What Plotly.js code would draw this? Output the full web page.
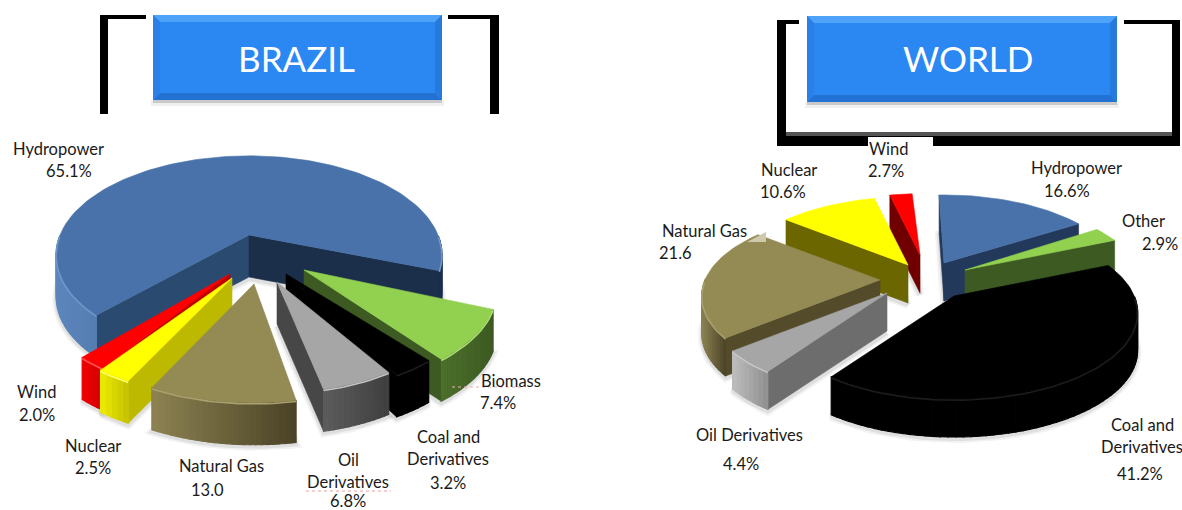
<!DOCTYPE html>
<html>
<head>
<meta charset="utf-8">
<script src="https://cdn.plot.ly/plotly-3.0.1.min.js"></script>
<style>html,body{margin:0;padding:0;background:#fff;overflow:hidden}#chart{width:1182px;height:510px}</style>
</head>
<body>
<div id="chart"></div>
<script>
// Electricity generation mix, percent shares
const brazilSources = ['Hydropower','Biomass','Coal and Derivatives','Oil Derivatives','Natural Gas','Nuclear','Wind'];
const brazilValues  = [65.1, 7.4, 3.2, 6.8, 13.0, 2.5, 2.0];
const worldSources  = ['Hydropower','Other','Coal and Derivatives','Oil Derivatives','Natural Gas','Nuclear','Wind'];
const worldValues   = [16.6, 2.9, 41.2, 4.4, 21.6, 10.6, 2.7];

// Colours per source: top face, near side, rim lit end, rim dark end, bevel
const palette = {
  'Hydropower':          {top:'#4872a9', sideA:'#2b4a70', sideB:'#1b2e4a', rimL:'#5c86bd', rimD:'#1b2e4a', glint:'#6f97cb'},
  'Biomass':             {top:'#92d050', sideA:'#3c5a22', sideB:'#3c5a22', rimL:'#4c6f2b', rimD:'#3c5a22', glint:'#a9dc72'},
  'Other':               {top:'#92d050', sideA:'#3c5a22', sideB:'#3c5a22', rimL:'#4c6f2b', rimD:'#3c5a22', glint:'#a9dc72'},
  'Coal and Derivatives':{top:'#000000', sideA:'#000000', sideB:'#000000', rimL:'#000000', rimD:'#000000', glint:'#1c1c1c'},
  'Oil Derivatives':     {top:'#a6a6a6', sideA:'#474747', sideB:'#474747', rimL:'#5c5c5c', rimD:'#3f3f3f', glint:'#c4c4c4'},
  'Natural Gas':         {top:'#948a54', sideA:'#544b2a', sideB:'#544b2a', rimL:'#8c8252', rimD:'#4a4226', glint:'#aaa16e'},
  'Nuclear':             {top:'#ffff00', sideA:'#bdb900', sideB:'#bdb900', rimL:'#ecec00', rimD:'#c4c000', glint:'#ffff66'},
  'Wind':                {top:'#ff0000', sideA:'#c00000', sideB:'#c00000', rimL:'#f00000', rimD:'#d00000', glint:'#ff5050'}
};

// Per-pie view: centre, radii, perspective strength, wall height, rotation, exploded offsets
const brazilView = {cx:249, cy:235, rx:189, ry:95, k:0.2, depth:42, startDeg:144.3, warpDeg:8,
  pull:{'Hydropower':[0,0],'Biomass':[55,35],'Coal and Derivatives':[37,39],'Oil Derivatives':[28,47],'Natural Gas':[5,49],'Nuclear':[-17,43],'Wind':[-19,39]},
  rot:{'Hydropower':-3,'Biomass':-1,'Coal and Derivatives':-3,'Oil Derivatives':-6,'Natural Gas':-4,'Nuclear':-3.5,'Wind':-5},
  scale:{'Oil Derivatives':0.93},
  side:{}};
const worldView = {cx:944, cy:263, rx:175, ry:81, k:0.19, depth:38, startDeg:266.6, warpDeg:0,
  pull:{'Hydropower':[0,0],'Other':[21,7],'Coal and Derivatives':[10,33],'Oil Derivatives':[-57,30],'Natural Gas':[-64,17],'Nuclear':[-36,2],'Wind':[-24,-8]},
  rot:{'Hydropower':1.5},
  scale:{'Wind':0.9,'Coal and Derivatives':1.03},
  side:{'Nuclear':'#6b6600','Wind':'#700000','Oil Derivatives':'#6d6d6d','Hydropower':'#23395b'},
  rim:{'Oil Derivatives':['#bdbdbd','#8f8f8f']}};

const rad = d => d * Math.PI / 180;
function hex(c){return [1,3,5].map(i=>parseInt(c.substr(i,2),16));}
function mix(a,b,t){const A=hex(a),B=hex(b);return 'rgb('+A.map((v,i)=>Math.round(v+(B[i]-v)*t)).join(',')+')';}

function facePts(pts){return {x:pts.map(p=>p[0]).concat(pts[0][0]), y:pts.map(p=>p[1]).concat(pts[0][1])};}
function fillTrace(pts,color,w){
  const f=facePts(pts);
  return {type:'scatter',mode:'lines',x:f.x,y:f.y,fill:'toself',fillcolor:color,
          line:{color:color,width:w===undefined?0.6:w},hoverinfo:'skip',showlegend:false};
}

function pieTraces(sources, values, view){
  const total = values.reduce((a,b)=>a+b,0);
  const warp = t => t + view.warpDeg*Math.sin(rad(2*t));
  let cursor = view.startDeg;
  const slices = sources.map((name,i)=>{
    const span = values[i]/total*360;
    const a0 = cursor, a1 = cursor+span;
    cursor = a1;
    const [dx,dy] = view.pull[name];
    return {name, a0, a1, ax:view.cx+dx, ay:view.cy+dy, rot:view.rot[name]||0, rs:view.scale[name]||1,
            mid:Math.sin(rad((warp(a0)+warp(a1))/2))};
  }).sort((p,q)=>p.mid-q.mid);

  const shadow=[], body=[];
  slices.forEach(sl=>{
    const pal = palette[sl.name];
    const steps = Math.max(4, Math.ceil((sl.a1-sl.a0)/2));
    const arc = [];
    for(let j=0;j<=steps;j++){
      const phi = warp(sl.a0+(sl.a1-sl.a0)*j/steps)+sl.rot;
      const s = sl.rs/(1 - view.k*Math.sin(rad(phi)));
      arc.push({phi, x:sl.ax+view.rx*Math.cos(rad(phi))*s, y:sl.ay+view.ry*Math.sin(rad(phi))*s});
    }
    // soft contact shadow under the wedge
    const low = [[sl.ax,sl.ay+view.depth+2]].concat(arc.map(q=>[q.x,q.y+view.depth+2]));
    const lf = facePts(low);
    [[8,0.05],[4,0.08]].forEach(([w,o])=>shadow.push({type:'scatter',mode:'lines',x:lf.x,y:lf.y,
      line:{color:'rgba(0,0,0,'+o+')',width:w},hoverinfo:'skip',showlegend:false}));

    const d = view.depth;
    const sideCol = (view.side && view.side[sl.name]);
    // radial walls facing the viewer
    const p0 = arc[0], p1 = arc[arc.length-1];
    if(Math.cos(rad(p0.phi))<0)
      body.push(fillTrace([[sl.ax,sl.ay],[p0.x,p0.y],[p0.x,p0.y+d],[sl.ax,sl.ay+d]], sideCol||pal.sideA));
    if(Math.cos(rad(p1.phi))>0)
      body.push(fillTrace([[sl.ax,sl.ay],[p1.x,p1.y],[p1.x,p1.y+d],[sl.ax,sl.ay+d]], sideCol?sideCol:pal.sideB));
    // outer wall, shaded left to right in narrow strips
    const front = arc.filter(q=>Math.sin(rad(q.phi))>-0.02);
    if(front.length>1){
      const xs = front.map(q=>q.x), lo=Math.min(...xs), hi=Math.max(...xs);
      const rim = (view.rim && view.rim[sl.name]) || [pal.rimL,pal.rimD];
      for(let j=0;j<arc.length-1;j++){
        const a=arc[j], b=arc[j+1];
        if(Math.sin(rad(a.phi))<-0.02||Math.sin(rad(b.phi))<-0.02) continue;
        const t=((a.x+b.x)/2-lo)/Math.max(1,hi-lo);
        body.push(fillTrace([[a.x,a.y],[b.x,b.y],[b.x,b.y+d],[a.x,a.y+d]], mix(rim[0],rim[1],t), 1.2));
      }
    }
    // top face
    body.push(fillTrace([[sl.ax,sl.ay]].concat(arc.map(q=>[q.x,q.y])), pal.top));
    // bevel along the near rim
    const runs=[[]];
    arc.forEach(q=>{ if(Math.sin(rad(q.phi))>0) runs[runs.length-1].push(q); else if(runs[runs.length-1].length) runs.push([]); });
    runs.filter(r=>r.length>1).forEach(r=>body.push({type:'scatter',mode:'lines',x:r.map(q=>q.x),y:r.map(q=>q.y+1.2),
      line:{color:pal.glint,width:1.6},hoverinfo:'skip',showlegend:false}));
  });
  return shadow.concat(body);
}

// Heading plate with bevelled edges
function plate(x0,y0,x1,y1){
  const b=7;
  const poly=(p,c)=>({type:'path',xref:'x',yref:'y',path:'M'+p.map(q=>q.join(',')).join('L')+'Z',fillcolor:c,line:{width:0},layer:'below'});
  const rect=(a,b2,c,d,col)=>({type:'rect',xref:'x',yref:'y',x0:a,y0:b2,x1:c,y1:d,fillcolor:col,line:{width:0},layer:'below'});
  return [
    rect(x0-2,y1,x1+2,y1+6,'rgba(0,0,0,0.06)'),
    rect(x0,y1,x1,y1+3,'rgba(0,0,0,0.16)'),
    rect(x0,y0,x1,y1,'#2b87f2'),
    poly([[x0,y0],[x1,y0],[x1-b,y0+b],[x0+b,y0+b]],'#4ea2f7'),
    poly([[x0,y1],[x1,y1],[x1-b,y1-b],[x0+b,y1-b]],'#2272d4'),
    poly([[x0,y0],[x0+b,y0+b],[x0+b,y1-b],[x0,y1]],'#2a80e8'),
    poly([[x1,y0],[x1-b,y0+b],[x1-b,y1-b],[x1,y1]],'#267ade')
  ];
}
const bar=(x0,y0,x1,y1,c)=>({type:'rect',xref:'x',yref:'y',x0,y0,x1,y1,fillcolor:c||'#000',line:{width:0},layer:'below'});

const shapes = [
  // Brazil brackets
  bar(100,15,146,19), bar(100,15,108,114),
  bar(448,15,499,19), bar(490,15,499,114),
  // World frame
  bar(777,20,799,24), bar(777,20,786,146),
  bar(1124,20,1180,24), bar(1172,20,1180,146),
  bar(777,132,1180,146), bar(786,132,1172,136,'#555555'),
  bar(868,137,933,150,'#ffffff')
].concat(plate(153,15,442,100), plate(807,16,1117,102), [
  // spell-check marks left in the captions
  {type:'line',xref:'x',yref:'y',x0:306,y0:491,x1:391,y1:491,line:{color:'#e8a0a0',width:1,dash:'dot'}},
  {type:'line',xref:'x',yref:'y',x0:452,y0:387,x1:522,y1:387,line:{color:'#e8b0b0',width:1,dash:'dot'}},
  // pale selection scrap at the end of the Natural Gas caption
  {type:'path',xref:'x',yref:'y',path:'M747,242L766,232L766,242Z',fillcolor:'#cfc9ad',line:{width:0},layer:'above'}
]);

const pct = v => v.toFixed(1)+'%';
const plain = v => v.toFixed(1);
const bv = n => brazilValues[brazilSources.indexOf(n)];
const wv = n => worldValues[worldSources.indexOf(n)];
const captions = [
  ['Hydropower',58,149],[pct(bv('Hydropower')),69,171],
  ['Wind',36,392],[pct(bv('Wind')),37,415],
  ['Nuclear',93,446],[pct(bv('Nuclear')),93,468],
  ['Natural Gas',221,466],[plain(bv('Natural Gas')),207,490],
  ['Oil',348,460],['Derivatives',348,482],[pct(bv('Oil Derivatives')),348,501],
  ['Coal and',448,437],['Derivatives',448,459],[pct(bv('Coal and Derivatives')),448,483],
  ['Biomass',511,381],[pct(bv('Biomass')),498,403],
  ['Wind',888,149],[pct(wv('Wind')),886,171],
  ['Nuclear',789,170],[pct(wv('Nuclear')),783,192],
  ['Natural Gas',704,231],[plain(wv('Natural Gas')),675,253],
  ['Hydropower',1076,168],[pct(wv('Hydropower')),1067,191],
  ['Other',1143,221],[pct(wv('Other')),1160,244],
  ['Coal and',1142,425],['Derivatives',1142,447],[pct(wv('Coal and Derivatives')),1140,474],
  ['Oil Derivatives',749,435],[pct(wv('Oil Derivatives')),741,464]
];
const font = 'Lato, Carlito, "Open Sans", sans-serif';
const annotations = captions.map(([text,x,y])=>({text,x,y,xref:'x',yref:'y',showarrow:false,
  xanchor:'center',yanchor:'middle',font:{family:font,size:16.5,color:'#1a1a1a'}}));
annotations.push({text:'BRAZIL',x:296,y:58,xref:'x',yref:'y',showarrow:false,xanchor:'center',yanchor:'middle',font:{family:font,size:35,color:'#fff'}});
annotations.push({text:'WORLD',x:968,y:58,xref:'x',yref:'y',showarrow:false,xanchor:'center',yanchor:'middle',font:{family:font,size:35,color:'#fff'}});

const traces = pieTraces(brazilSources,brazilValues,brazilView).concat(pieTraces(worldSources,worldValues,worldView));
Plotly.newPlot('chart',traces,{
  width:1182,height:510,margin:{l:0,r:0,t:0,b:0},paper_bgcolor:'#fff',plot_bgcolor:'#fff',showlegend:false,
  xaxis:{range:[0,1182],visible:false,fixedrange:true},
  yaxis:{range:[510,0],visible:false,fixedrange:true},
  shapes,annotations
},{displayModeBar:false,staticPlot:true});
</script>
</body>
</html>
